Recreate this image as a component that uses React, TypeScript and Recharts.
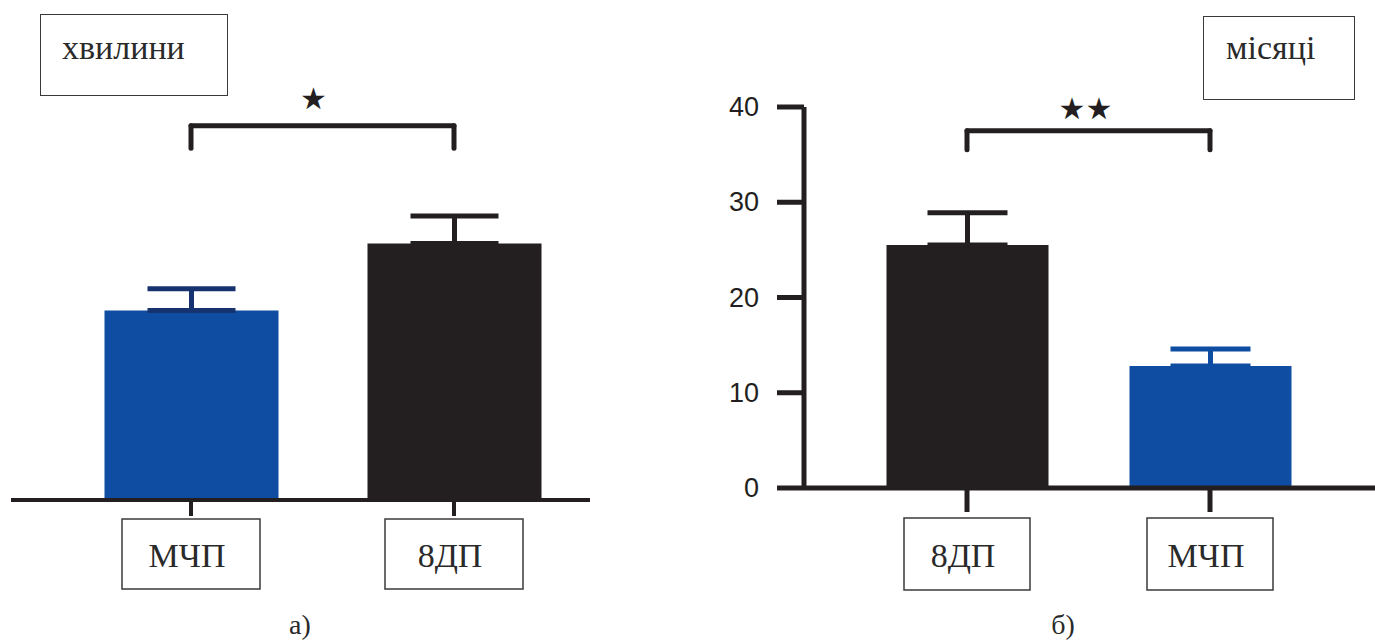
import React from 'react';
import { BarChart, Bar, XAxis, YAxis, ErrorBar, ReferenceLine, Label } from 'recharts';

// ---- data ----
const leftCategories = ['МЧП', '8ДП'];
const leftValues = [19.3, 26.1];
const leftErrors = [2.2, 2.8];
const leftBracketLevels = [38.1, 35.8];
const leftStars = '★';
const leftUnit = 'хвилини';
const leftCaption = 'а)';

const rightCategories = ['8ДП', 'МЧП'];
const rightValues = [25.5, 12.8];
const rightErrors = [3.4, 1.8];
const rightBracketLevels = [37.5, 35.5];
const rightStars = '★★';
const rightUnit = 'місяці';
const rightCaption = 'б)';
const yTicks = [0, 10, 20, 30, 40];

const BLUE = '#0E4DA1';
const DARK = '#231F20';
const BLUE_ERR_LEFT = '#17336F';

function buildRows(cats: string[], vals: number[], errs: number[]) {
  return cats.map((c, i) => ({
    name: c,
    dark: c === '8ДП' ? vals[i] : null,
    blue: c === 'МЧП' ? vals[i] : null,
    darkErr: c === '8ДП' ? [0, errs[i]] : null,
    blueErr: c === 'МЧП' ? [0, errs[i]] : null,
  }));
}

const leftRows = buildRows(leftCategories, leftValues, leftErrors);
const rightRows = buildRows(rightCategories, rightValues, rightErrors);

const serif = '"Liberation Serif", "Times New Roman", serif';
const sans = '"Liberation Sans", Arial, sans-serif';

function makeTick(boxW: number, boxH: number, gap: number) {
  return (props: any) => {
    const { x, y, payload } = props;
    return (
      <g>
        <rect x={x - boxW / 2} y={y + gap} width={boxW} height={boxH} fill="#fff" stroke="#3a3a3a" strokeWidth={1.5} />
        <text x={x - 4} y={y + gap + boxH / 2 + 1} textAnchor="middle" dominantBaseline="central" fontFamily={serif} fontSize={34} fill="#2a2a2a">
          {payload.value}
        </text>
      </g>
    );
  };
}

function YTick(props: any) {
  const { x, y, payload } = props;
  return (
    <text x={x} y={y} textAnchor="end" dominantBaseline="central" style={{ fontFamily: sans, fontSize: '27px' }} fill={DARK}>
      {payload.value}
    </text>
  );
}

function StarLabel(text: string, offset: number, dx: number) {
  return <Label value={text} position="top" offset={offset} dx={dx} fill={DARK} fontSize={30} fontFamily='"DejaVu Sans", sans-serif' />;
}

export default function App() {
  const lineProps = { stroke: DARK, strokeWidth: 5, strokeLinecap: 'round' as const, ifOverflow: 'visible' as const };
  return (
    <div style={{ position: 'relative', width: 1375, height: 642, background: '#fff', overflow: 'hidden' }}>
      <style>{`body{margin:0}`}</style>

      {/* left panel */}
      <div style={{ position: 'absolute', left: 0, top: 0 }}>
        <BarChart width={600} height={642} data={leftRows} margin={{ top: 107, right: 10, bottom: 42, left: 11 }} barSize={174}>
          <YAxis hide domain={[0, 40]} />
          <XAxis
            dataKey="name"
            height={100}
            padding={{ left: 48.5, right: 4.5 }}
            axisLine={{ stroke: DARK, strokeWidth: 4 }}
            tickLine={{ stroke: DARK, strokeWidth: 4 }}
            tickSize={16}
            tickMargin={0}
            tick={makeTick(138, 70, 3)}
            interval={0}
          />
          <Bar dataKey="blue" stackId="s" fill={BLUE} isAnimationActive={false}>
            <ErrorBar dataKey="blueErr" width={44} stroke={BLUE_ERR_LEFT} strokeWidth={5} direction="y" />
          </Bar>
          <Bar dataKey="dark" stackId="s" fill={DARK} isAnimationActive={false}>
            <ErrorBar dataKey="darkErr" width={44} stroke={DARK} strokeWidth={5} direction="y" />
          </Bar>
          <ReferenceLine segment={[{ x: leftCategories[0], y: leftBracketLevels[0] }, { x: leftCategories[1], y: leftBracketLevels[0] }]} {...lineProps}>
            {StarLabel(leftStars, 17, -9)}
          </ReferenceLine>
          <ReferenceLine segment={[{ x: leftCategories[0], y: leftBracketLevels[0] }, { x: leftCategories[0], y: leftBracketLevels[1] }]} {...lineProps} />
          <ReferenceLine segment={[{ x: leftCategories[1], y: leftBracketLevels[0] }, { x: leftCategories[1], y: leftBracketLevels[1] }]} {...lineProps} />
        </BarChart>
      </div>

      {/* right panel */}
      <div style={{ position: 'absolute', left: 690, top: 0 }}>
        <BarChart width={685} height={642} data={rightRows} margin={{ top: 107, right: 0, bottom: 54, left: 0 }} barSize={162}>
          <YAxis
            domain={[0, 40]}
            ticks={yTicks}
            width={114}
            axisLine={{ stroke: DARK, strokeWidth: 5 }}
            tickLine={{ stroke: DARK, strokeWidth: 5 }}
            tickSize={27}
            tickMargin={18}
            tick={YTick}
            interval={0}
          />
          <XAxis
            dataKey="name"
            height={100}
            padding={{ left: 41.5, right: 43.5 }}
            axisLine={{ stroke: DARK, strokeWidth: 5 }}
            tickLine={{ stroke: DARK, strokeWidth: 5 }}
            tickSize={24}
            tickMargin={0}
            tick={makeTick(126, 72, 6)}
            interval={0}
          />
          <Bar dataKey="dark" stackId="s" fill={DARK} isAnimationActive={false}>
            <ErrorBar dataKey="darkErr" width={40} stroke={DARK} strokeWidth={5} direction="y" />
          </Bar>
          <Bar dataKey="blue" stackId="s" fill={BLUE} isAnimationActive={false}>
            <ErrorBar dataKey="blueErr" width={40} stroke={BLUE} strokeWidth={5} direction="y" />
          </Bar>
          <ReferenceLine segment={[{ x: rightCategories[0], y: rightBracketLevels[0] }, { x: rightCategories[1], y: rightBracketLevels[0] }]} {...lineProps}>
            {StarLabel(rightStars, 12, -3)}
          </ReferenceLine>
          <ReferenceLine segment={[{ x: rightCategories[0], y: rightBracketLevels[0] }, { x: rightCategories[0], y: rightBracketLevels[1] }]} {...lineProps} />
          <ReferenceLine segment={[{ x: rightCategories[1], y: rightBracketLevels[0] }, { x: rightCategories[1], y: rightBracketLevels[1] }]} {...lineProps} />
        </BarChart>
      </div>

      {/* unit boxes */}
      <div style={{ position: 'absolute', left: 40, top: 14, width: 188, height: 82, border: '1.5px solid #3a3a3a', boxSizing: 'border-box' }}>
        <div style={{ position: 'absolute', left: 21, top: 14, fontFamily: serif, fontSize: 34, color: '#2a2a2a', lineHeight: '38px' }}>{leftUnit}</div>
      </div>
      <div style={{ position: 'absolute', left: 1203, top: 16, width: 152, height: 84, border: '1.5px solid #3a3a3a', boxSizing: 'border-box' }}>
        <div style={{ position: 'absolute', left: 22, top: 12, fontFamily: serif, fontSize: 34, color: '#2a2a2a', lineHeight: '38px' }}>{rightUnit}</div>
      </div>

      {/* captions */}
      <div style={{ position: 'absolute', left: 250, width: 100, top: 610, textAlign: 'center', fontFamily: serif, fontSize: 28, color: '#2a2a2a', lineHeight: '30px' }}>{leftCaption}</div>
      <div style={{ position: 'absolute', left: 1013, width: 100, top: 610, textAlign: 'center', fontFamily: serif, fontSize: 28, color: '#2a2a2a', lineHeight: '30px' }}>{rightCaption}</div>
    </div>
  );
}
